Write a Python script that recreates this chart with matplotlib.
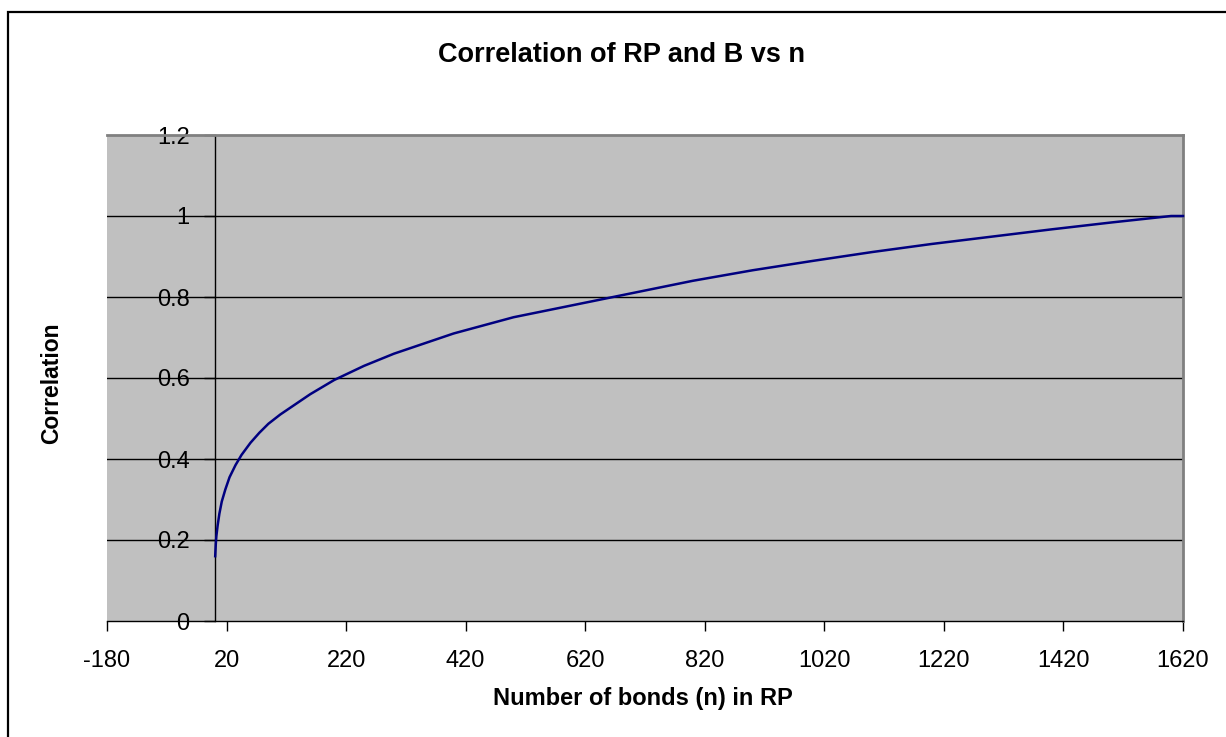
import matplotlib
matplotlib.use("Agg")
import matplotlib.pyplot as plt
from matplotlib.patches import Rectangle

plt.rcParams['font.family'] = ['Liberation Sans', 'DejaVu Sans']

# Data
n_bonds = [1, 2, 3, 5, 8, 12, 18, 25, 35, 45, 60, 75, 90, 110, 130, 160, 200, 250, 300,
           350, 400, 450, 500, 600, 700, 800, 900, 1000, 1100, 1200, 1300, 1400, 1500, 1600, 1620]
correlation = [0.16, 0.19, 0.21, 0.235, 0.265, 0.295, 0.325, 0.355, 0.385, 0.41,
               0.44, 0.465, 0.487, 0.51, 0.53, 0.56, 0.595, 0.63, 0.66, 0.685,
               0.71, 0.73, 0.75, 0.78, 0.81, 0.84, 0.866, 0.889, 0.911, 0.931,
               0.949, 0.967, 0.984, 1.0, 1.0]
x_ticks = [-180, 20, 220, 420, 620, 820, 1020, 1220, 1420, 1620]
y_ticks = [0, 0.2, 0.4, 0.6, 0.8, 1.0, 1.2]
y_tick_labels = ['0', '0.2', '0.4', '0.6', '0.8', '1', '1.2']

W, H = 1226, 737
fig = plt.figure(figsize=(W / 100, H / 100), dpi=100)
fig.patch.set_facecolor('white')

L, R, T, B = 107, 1183, 135, 621
ax = fig.add_axes([L / W, 1 - B / H, (R - L) / W, (B - T) / H])
ax.set_facecolor('#c0c0c0')

ax.set_xlim(-180, 1620)
ax.set_ylim(0, 1.2)

for yv in y_ticks[1:-1]:
    ax.axhline(yv, color='black', lw=1.0, zorder=1)

ax.plot(n_bonds, correlation, color='#000080', lw=1.8, zorder=3, clip_on=False)

ax.spines['left'].set_position(('data', 0))
ax.spines['left'].set_color('black')
ax.spines['left'].set_linewidth(1.0)
ax.spines['bottom'].set_color('black')
ax.spines['bottom'].set_linewidth(1.0)
ax.spines['top'].set_color('#808080')
ax.spines['top'].set_linewidth(2.0)
ax.spines['right'].set_color('#808080')
ax.spines['right'].set_linewidth(2.0)

ax.set_xticks(x_ticks)
ax.set_xticklabels([str(v) for v in x_ticks])
ax.set_yticks(y_ticks)
ax.set_yticklabels(y_tick_labels)
ax.tick_params(axis='x', direction='out', length=7, width=1, pad=14, labelsize=17)
ax.tick_params(axis='y', direction='out', length=8, width=1, pad=10, labelsize=17)

fig.text(621 / W, 1 - 55 / H, 'Correlation of RP and B vs n', ha='center', va='center',
         fontsize=19.5, fontweight='bold')
fig.text(643 / W, 1 - 699 / H, 'Number of bonds (n) in RP', ha='center', va='center',
         fontsize=17, fontweight='bold')
fig.text(52 / W, 1 - 383 / H, 'Correlation', ha='center', va='center', rotation=90,
         fontsize=16.5, fontweight='bold')

fig.patches.append(Rectangle((8 / W, -0.1), 1.2, 1 - 12 / H + 0.1, transform=fig.transFigure,
                             fill=False, edgecolor='black', lw=1.6))

fig.savefig('out.png', dpi=100)
